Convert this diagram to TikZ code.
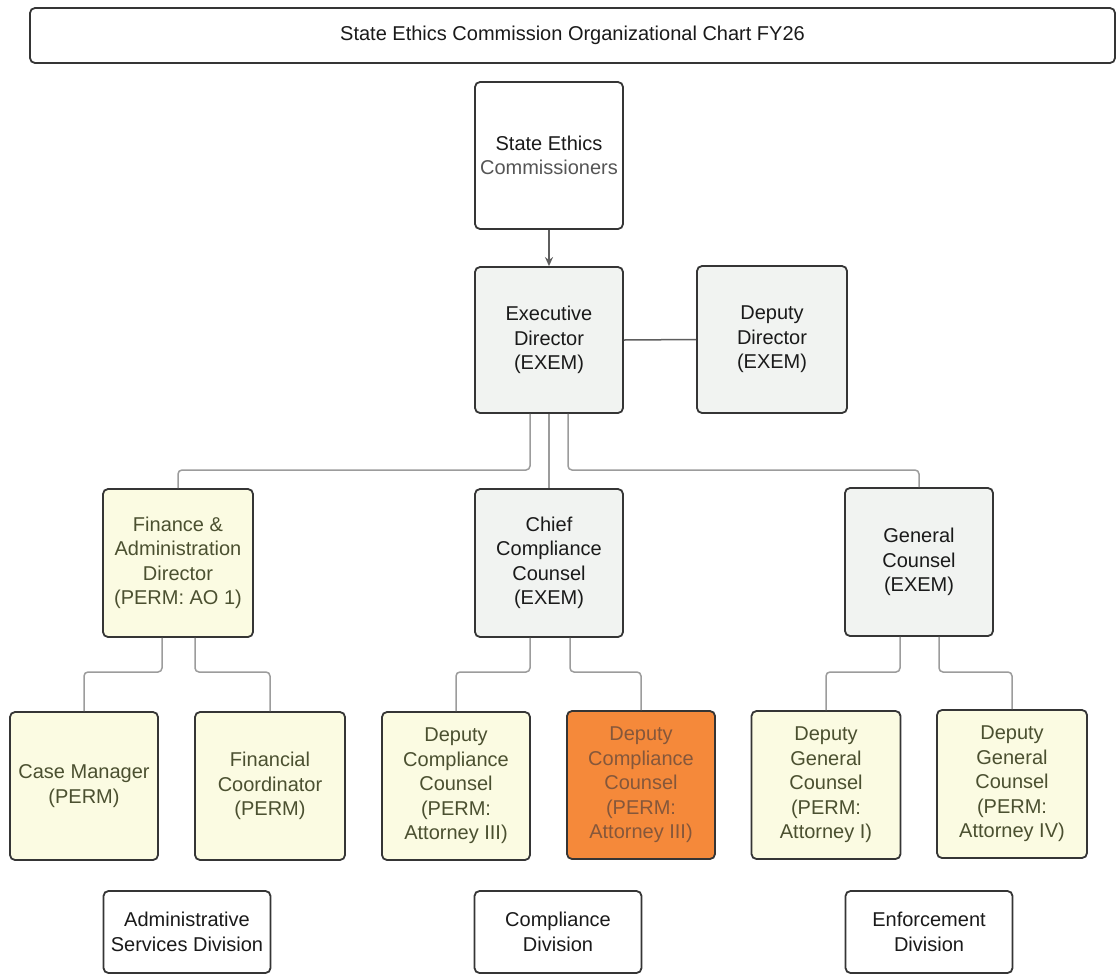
\documentclass[tikz,border=0pt]{standalone}
\usepackage{fontspec}
\setmainfont{Liberation Sans}
\usetikzlibrary{arrows.meta}
\definecolor{boxline}{HTML}{353535}
\definecolor{grayfill}{HTML}{F1F3F1}
\definecolor{yelfill}{HTML}{FBFBE2}
\definecolor{orangefill}{HTML}{F5893A}
\definecolor{blacktext}{HTML}{1A1A1A}
\definecolor{olivetext}{HTML}{4B5030}
\definecolor{orangetext}{HTML}{85573A}
\definecolor{graytext}{HTML}{555555}
\definecolor{conncol}{HTML}{9C9C9C}
\definecolor{darkconn}{HTML}{5E5E5E}
\begin{document}
\begin{tikzpicture}[x=1pt,y=-1pt,
  box/.style={draw=boxline, line width=1.8pt, rounded corners=5pt, inner sep=0pt, align=center,
    font=\fontsize{20}{24.5}\selectfont, minimum width=148pt, minimum height=147pt},
  grayb/.style={box, fill=grayfill, text=blacktext},
  yelb/.style={box, fill=yelfill, text=olivetext},
  orgb/.style={box, fill=orangefill, text=orangetext},
  divb/.style={box, fill=white, text=blacktext, minimum width=167pt, minimum height=82pt},
  conn/.style={draw=conncol, line width=1.5pt, rounded corners=4pt}]
\fill[white] (0,0) rectangle (1116,975);
\useasboundingbox (0,0) rectangle (1116,975);

% title
\node[box, fill=white, text=blacktext, minimum width=1085pt, minimum height=55pt] (title) at (572.5,35.5)
  {State Ethics Commission Organizational Chart FY26};

% top
\node[box, fill=white, text=blacktext] (sec) at (549,155.5) {State Ethics\\\textcolor{graytext}{Commissioners}};
\node[grayb, minimum height=146pt] (exec) at (549,340) {Executive\\Director\\(EXEM)};
\node[grayb, minimum width=150pt] (dep) at (772,339.5) {Deputy\\Director\\(EXEM)};

% middle
\node[yelb, minimum width=150pt, minimum height=148pt] (fin) at (178,563) {Finance \&\\Administration\\Director\\(PERM: AO 1)};
\node[grayb, minimum height=148pt] (chief) at (549,563) {Chief\\Compliance\\Counsel\\(EXEM)};
\node[grayb, minimum height=148pt] (gc) at (919,562) {General\\Counsel\\(EXEM)};

% bottom row
\node[yelb, minimum height=148pt] (cm) at (84,786) {Case Manager\\(PERM)};
\node[yelb, minimum width=150pt, minimum height=148pt] (fc) at (270,786) {Financial\\Coordinator\\(PERM)};
\node[yelb, minimum height=148pt] (dcc1) at (456,786) {Deputy\\Compliance\\Counsel\\(PERM:\\Attorney III)};
\node[orgb, minimum height=148pt] (dcc2) at (641,785) {Deputy\\Compliance\\Counsel\\(PERM:\\Attorney III)};
\node[yelb, minimum width=149pt, minimum height=148pt] (dgc1) at (826,785) {Deputy\\General\\Counsel\\(PERM:\\Attorney I)};
\node[yelb, minimum width=150pt, minimum height=148pt] (dgc2) at (1012,784) {Deputy\\General\\Counsel\\(PERM:\\Attorney IV)};

% divisions
\node[divb] (adm) at (187,932) {Administrative\\Services Division};
\node[divb] (comp) at (558,932) {Compliance\\Division};
\node[divb] (enf) at (929,932) {Enforcement\\Division};

% junction levels
\coordinate (j1) at (0,470);
\coordinate (j2) at (0,672);

% connectors
\draw[draw=darkconn, line width=1.3pt, -{Stealth[length=9pt,width=8pt]}] (sec.south) -- (exec.north);
\draw[draw=darkconn, line width=1.5pt] (exec.east) -- (dep.west);

\draw[conn] ([xshift=-19pt]exec.south) |- (fin.north |- j1) -- (fin.north);
\draw[conn] (exec.south) -- (chief.north);
\draw[conn] ([xshift=19pt]exec.south) |- (gc.north |- j1) -- (gc.north);

\draw[conn] ([xshift=-16pt]fin.south) |- (cm.north |- j2) -- (cm.north);
\draw[conn] ([xshift=17pt]fin.south) |- (fc.north |- j2) -- (fc.north);

\draw[conn] ([xshift=-19pt]chief.south) |- (dcc1.north |- j2) -- (dcc1.north);
\draw[conn] ([xshift=21pt]chief.south) |- (dcc2.north |- j2) -- (dcc2.north);

\draw[conn] ([xshift=-19pt]gc.south) |- (dgc1.north |- j2) -- (dgc1.north);
\draw[conn] ([xshift=20pt]gc.south) |- (dgc2.north |- j2) -- (dgc2.north);
\end{tikzpicture}
\end{document}
